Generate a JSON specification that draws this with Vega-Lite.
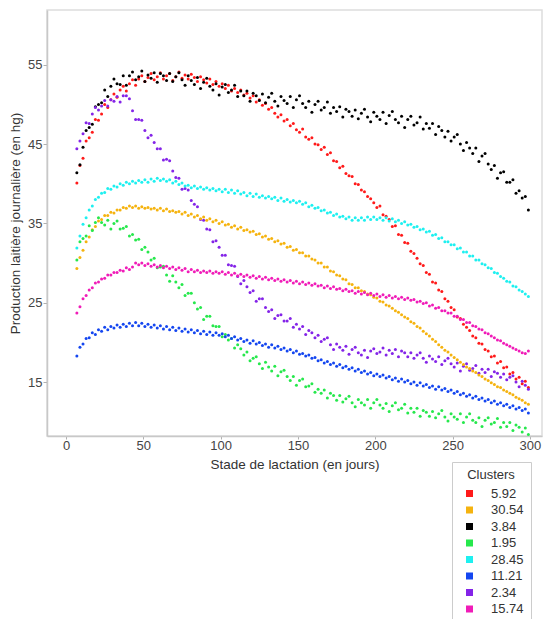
{
"$schema":"https://vega.github.io/schema/vega-lite/v6.json",
"width":495,"height":426,
"autosize":{"type":"none"},
"padding":{"left":47,"top":10,"right":6,"bottom":183},
"background":"white",
"config":{"font":"Liberation Sans","view":{"stroke":"#dddddd","strokeWidth":1.5},
"axis":{"grid":false,"domainColor":"#c8c8c8","domainWidth":1.5,"tickColor":"#b0b0b0","labelColor":"#444444","titleColor":"#333333","labelFontSize":13,"titleFontSize":13.5,"titleFontWeight":"normal"}},
"data":{"values":[
{"k":"5.92","x":7,"y":40.1},{"k":"5.92","x":9,"y":42.3},{"k":"5.92","x":11,"y":43.2},{"k":"5.92","x":13,"y":45.4},{"k":"5.92","x":15,"y":45.8},{"k":"5.92","x":17,"y":46.5},{"k":"5.92","x":19,"y":48.1},{"k":"5.92","x":21,"y":48.0},{"k":"5.92","x":23,"y":48.8},{"k":"5.92","x":25,"y":50.0},{"k":"5.92","x":27,"y":49.6},{"k":"5.92","x":29,"y":50.6},{"k":"5.92","x":31,"y":51.3},{"k":"5.92","x":33,"y":50.9},{"k":"5.92","x":35,"y":51.8},{"k":"5.92","x":37,"y":52.3},{"k":"5.92","x":39,"y":51.7},{"k":"5.92","x":41,"y":52.6},{"k":"5.92","x":43,"y":53.1},{"k":"5.92","x":45,"y":52.4},{"k":"5.92","x":47,"y":53.2},{"k":"5.92","x":49,"y":53.6},{"k":"5.92","x":51,"y":52.9},{"k":"5.92","x":53,"y":53.4},{"k":"5.92","x":55,"y":53.9},{"k":"5.92","x":57,"y":53.1},{"k":"5.92","x":59,"y":53.5},{"k":"5.92","x":61,"y":54.0},{"k":"5.92","x":63,"y":53.2},{"k":"5.92","x":65,"y":53.6},{"k":"5.92","x":67,"y":53.9},{"k":"5.92","x":69,"y":53.0},{"k":"5.92","x":71,"y":53.5},{"k":"5.92","x":73,"y":54.1},{"k":"5.92","x":75,"y":53.3},{"k":"5.92","x":77,"y":53.7},{"k":"5.92","x":79,"y":53.2},{"k":"5.92","x":81,"y":53.8},{"k":"5.92","x":83,"y":53.4},{"k":"5.92","x":85,"y":52.9},{"k":"5.92","x":87,"y":53.5},{"k":"5.92","x":89,"y":53.1},{"k":"5.92","x":91,"y":52.7},{"k":"5.92","x":93,"y":53.2},{"k":"5.92","x":95,"y":52.5},{"k":"5.92","x":97,"y":52.9},{"k":"5.92","x":99,"y":52.3},{"k":"5.92","x":101,"y":52.6},{"k":"5.92","x":103,"y":52.0},{"k":"5.92","x":105,"y":52.4},{"k":"5.92","x":107,"y":51.7},{"k":"5.92","x":109,"y":52.0},{"k":"5.92","x":111,"y":51.5},{"k":"5.92","x":113,"y":51.8},{"k":"5.92","x":115,"y":51.2},{"k":"5.92","x":117,"y":51.4},{"k":"5.92","x":119,"y":50.8},{"k":"5.92","x":121,"y":51.1},{"k":"5.92","x":123,"y":50.3},{"k":"5.92","x":125,"y":50.6},{"k":"5.92","x":127,"y":49.9},{"k":"5.92","x":129,"y":50.1},{"k":"5.92","x":131,"y":49.4},{"k":"5.92","x":133,"y":49.6},{"k":"5.92","x":135,"y":48.9},{"k":"5.92","x":137,"y":48.4},{"k":"5.92","x":139,"y":48.7},{"k":"5.92","x":141,"y":47.9},{"k":"5.92","x":143,"y":48.1},{"k":"5.92","x":145,"y":47.3},{"k":"5.92","x":147,"y":47.6},{"k":"5.92","x":149,"y":46.8},{"k":"5.92","x":151,"y":46.5},{"k":"5.92","x":153,"y":46.9},{"k":"5.92","x":155,"y":45.9},{"k":"5.92","x":157,"y":45.6},{"k":"5.92","x":159,"y":45.8},{"k":"5.92","x":161,"y":45.0},{"k":"5.92","x":163,"y":44.9},{"k":"5.92","x":165,"y":44.3},{"k":"5.92","x":167,"y":44.6},{"k":"5.92","x":169,"y":43.7},{"k":"5.92","x":171,"y":43.9},{"k":"5.92","x":173,"y":42.9},{"k":"5.92","x":175,"y":42.8},{"k":"5.92","x":177,"y":42.0},{"k":"5.92","x":179,"y":42.2},{"k":"5.92","x":181,"y":41.3},{"k":"5.92","x":183,"y":41.0},{"k":"5.92","x":185,"y":40.9},{"k":"5.92","x":187,"y":40.0},{"k":"5.92","x":189,"y":39.9},{"k":"5.92","x":191,"y":39.2},{"k":"5.92","x":193,"y":39.0},{"k":"5.92","x":195,"y":38.4},{"k":"5.92","x":197,"y":38.1},{"k":"5.92","x":199,"y":37.6},{"k":"5.92","x":201,"y":37.0},{"k":"5.92","x":203,"y":37.2},{"k":"5.92","x":205,"y":36.1},{"k":"5.92","x":207,"y":35.9},{"k":"5.92","x":209,"y":35.5},{"k":"5.92","x":211,"y":34.6},{"k":"5.92","x":213,"y":34.7},{"k":"5.92","x":215,"y":33.6},{"k":"5.92","x":217,"y":33.5},{"k":"5.92","x":219,"y":32.6},{"k":"5.92","x":221,"y":32.5},{"k":"5.92","x":223,"y":31.5},{"k":"5.92","x":225,"y":31.2},{"k":"5.92","x":227,"y":30.6},{"k":"5.92","x":229,"y":29.9},{"k":"5.92","x":231,"y":29.7},{"k":"5.92","x":233,"y":28.8},{"k":"5.92","x":235,"y":28.6},{"k":"5.92","x":237,"y":27.6},{"k":"5.92","x":239,"y":27.5},{"k":"5.92","x":241,"y":26.6},{"k":"5.92","x":243,"y":26.4},{"k":"5.92","x":245,"y":25.5},{"k":"5.92","x":247,"y":25.2},{"k":"5.92","x":249,"y":24.4},{"k":"5.92","x":251,"y":24.1},{"k":"5.92","x":253,"y":23.2},{"k":"5.92","x":255,"y":23.0},{"k":"5.92","x":257,"y":22.3},{"k":"5.92","x":259,"y":21.9},{"k":"5.92","x":261,"y":21.5},{"k":"5.92","x":263,"y":20.8},{"k":"5.92","x":265,"y":20.6},{"k":"5.92","x":267,"y":19.9},{"k":"5.92","x":269,"y":19.8},{"k":"5.92","x":271,"y":19.1},{"k":"5.92","x":273,"y":18.9},{"k":"5.92","x":275,"y":18.2},{"k":"5.92","x":277,"y":18.3},{"k":"5.92","x":279,"y":17.4},{"k":"5.92","x":281,"y":17.6},{"k":"5.92","x":283,"y":16.8},{"k":"5.92","x":285,"y":16.9},{"k":"5.92","x":287,"y":16.0},{"k":"5.92","x":289,"y":16.2},{"k":"5.92","x":291,"y":15.4},{"k":"5.92","x":293,"y":15.6},{"k":"5.92","x":295,"y":14.8},{"k":"5.92","x":297,"y":15.1},{"k":"5.92","x":299,"y":14.3},
{"k":"3.84","x":7,"y":41.4},{"k":"3.84","x":9,"y":42.4},{"k":"3.84","x":11,"y":44.6},{"k":"3.84","x":13,"y":46.7},{"k":"3.84","x":15,"y":47.1},{"k":"3.84","x":17,"y":47.5},{"k":"3.84","x":19,"y":49.7},{"k":"3.84","x":21,"y":50.0},{"k":"3.84","x":23,"y":50.2},{"k":"3.84","x":25,"y":51.8},{"k":"3.84","x":27,"y":51.0},{"k":"3.84","x":29,"y":52.3},{"k":"3.84","x":31,"y":53.2},{"k":"3.84","x":33,"y":52.6},{"k":"3.84","x":35,"y":52.5},{"k":"3.84","x":37,"y":53.6},{"k":"3.84","x":39,"y":52.4},{"k":"3.84","x":41,"y":53.6},{"k":"3.84","x":43,"y":54.1},{"k":"3.84","x":45,"y":53.1},{"k":"3.84","x":47,"y":53.5},{"k":"3.84","x":49,"y":54.2},{"k":"3.84","x":51,"y":52.9},{"k":"3.84","x":53,"y":53.7},{"k":"3.84","x":55,"y":53.3},{"k":"3.84","x":57,"y":54.0},{"k":"3.84","x":59,"y":52.8},{"k":"3.84","x":61,"y":53.9},{"k":"3.84","x":63,"y":53.6},{"k":"3.84","x":65,"y":53.0},{"k":"3.84","x":67,"y":53.9},{"k":"3.84","x":69,"y":52.9},{"k":"3.84","x":71,"y":53.5},{"k":"3.84","x":73,"y":54.0},{"k":"3.84","x":75,"y":53.1},{"k":"3.84","x":77,"y":52.4},{"k":"3.84","x":79,"y":53.6},{"k":"3.84","x":81,"y":53.0},{"k":"3.84","x":83,"y":52.5},{"k":"3.84","x":85,"y":53.4},{"k":"3.84","x":87,"y":52.0},{"k":"3.84","x":89,"y":52.8},{"k":"3.84","x":91,"y":53.3},{"k":"3.84","x":93,"y":52.3},{"k":"3.84","x":95,"y":51.8},{"k":"3.84","x":97,"y":52.6},{"k":"3.84","x":99,"y":51.2},{"k":"3.84","x":101,"y":52.2},{"k":"3.84","x":103,"y":52.5},{"k":"3.84","x":105,"y":51.5},{"k":"3.84","x":107,"y":51.8},{"k":"3.84","x":109,"y":52.4},{"k":"3.84","x":111,"y":51.0},{"k":"3.84","x":113,"y":51.7},{"k":"3.84","x":115,"y":51.1},{"k":"3.84","x":117,"y":51.7},{"k":"3.84","x":119,"y":50.4},{"k":"3.84","x":121,"y":51.4},{"k":"3.84","x":123,"y":51.1},{"k":"3.84","x":125,"y":50.5},{"k":"3.84","x":127,"y":51.3},{"k":"3.84","x":129,"y":50.2},{"k":"3.84","x":131,"y":50.9},{"k":"3.84","x":133,"y":51.4},{"k":"3.84","x":135,"y":50.4},{"k":"3.84","x":137,"y":49.8},{"k":"3.84","x":139,"y":51.0},{"k":"3.84","x":141,"y":50.5},{"k":"3.84","x":143,"y":50.1},{"k":"3.84","x":145,"y":51.0},{"k":"3.84","x":147,"y":49.6},{"k":"3.84","x":149,"y":50.6},{"k":"3.84","x":151,"y":51.1},{"k":"3.84","x":153,"y":50.1},{"k":"3.84","x":155,"y":49.6},{"k":"3.84","x":157,"y":50.4},{"k":"3.84","x":159,"y":49.0},{"k":"3.84","x":161,"y":50.0},{"k":"3.84","x":163,"y":50.4},{"k":"3.84","x":165,"y":49.3},{"k":"3.84","x":167,"y":49.6},{"k":"3.84","x":169,"y":50.3},{"k":"3.84","x":171,"y":48.9},{"k":"3.84","x":173,"y":49.6},{"k":"3.84","x":175,"y":49.1},{"k":"3.84","x":177,"y":49.7},{"k":"3.84","x":179,"y":48.4},{"k":"3.84","x":181,"y":49.4},{"k":"3.84","x":183,"y":49.1},{"k":"3.84","x":185,"y":48.5},{"k":"3.84","x":187,"y":49.3},{"k":"3.84","x":189,"y":48.2},{"k":"3.84","x":191,"y":48.9},{"k":"3.84","x":193,"y":49.4},{"k":"3.84","x":195,"y":48.4},{"k":"3.84","x":197,"y":47.8},{"k":"3.84","x":199,"y":49.0},{"k":"3.84","x":201,"y":48.5},{"k":"3.84","x":203,"y":48.1},{"k":"3.84","x":205,"y":49.0},{"k":"3.84","x":207,"y":47.6},{"k":"3.84","x":209,"y":48.6},{"k":"3.84","x":211,"y":49.1},{"k":"3.84","x":213,"y":48.1},{"k":"3.84","x":215,"y":47.7},{"k":"3.84","x":217,"y":48.5},{"k":"3.84","x":219,"y":47.1},{"k":"3.84","x":221,"y":48.1},{"k":"3.84","x":223,"y":48.5},{"k":"3.84","x":225,"y":47.4},{"k":"3.84","x":227,"y":47.7},{"k":"3.84","x":229,"y":48.4},{"k":"3.84","x":231,"y":46.9},{"k":"3.84","x":233,"y":47.6},{"k":"3.84","x":235,"y":47.0},{"k":"3.84","x":237,"y":47.6},{"k":"3.84","x":239,"y":46.2},{"k":"3.84","x":241,"y":47.2},{"k":"3.84","x":243,"y":46.7},{"k":"3.84","x":245,"y":45.9},{"k":"3.84","x":247,"y":46.6},{"k":"3.84","x":249,"y":45.4},{"k":"3.84","x":251,"y":45.9},{"k":"3.84","x":253,"y":46.2},{"k":"3.84","x":255,"y":45.0},{"k":"3.84","x":257,"y":44.2},{"k":"3.84","x":259,"y":45.2},{"k":"3.84","x":261,"y":44.5},{"k":"3.84","x":263,"y":43.8},{"k":"3.84","x":265,"y":44.5},{"k":"3.84","x":267,"y":42.8},{"k":"3.84","x":269,"y":43.5},{"k":"3.84","x":271,"y":43.8},{"k":"3.84","x":273,"y":42.5},{"k":"3.84","x":275,"y":41.8},{"k":"3.84","x":277,"y":42.3},{"k":"3.84","x":279,"y":40.7},{"k":"3.84","x":281,"y":41.4},{"k":"3.84","x":283,"y":41.5},{"k":"3.84","x":285,"y":40.2},{"k":"3.84","x":287,"y":40.2},{"k":"3.84","x":289,"y":40.5},{"k":"3.84","x":291,"y":38.8},{"k":"3.84","x":293,"y":39.1},{"k":"3.84","x":295,"y":38.2},{"k":"3.84","x":297,"y":38.4},{"k":"3.84","x":299,"y":36.7},
{"k":"2.34","x":7,"y":44.4},{"k":"2.34","x":9,"y":45.4},{"k":"2.34","x":11,"y":46.3},{"k":"2.34","x":13,"y":47.7},{"k":"2.34","x":15,"y":47.6},{"k":"2.34","x":17,"y":48.8},{"k":"2.34","x":19,"y":49.6},{"k":"2.34","x":21,"y":49.3},{"k":"2.34","x":23,"y":49.8},{"k":"2.34","x":25,"y":50.5},{"k":"2.34","x":27,"y":49.8},{"k":"2.34","x":29,"y":50.6},{"k":"2.34","x":31,"y":50.4},{"k":"2.34","x":33,"y":51.0},{"k":"2.34","x":35,"y":50.3},{"k":"2.34","x":37,"y":51.1},{"k":"2.34","x":39,"y":51.1},{"k":"2.34","x":41,"y":50.7},{"k":"2.34","x":43,"y":49.2},{"k":"2.34","x":45,"y":48.1},{"k":"2.34","x":47,"y":48.1},{"k":"2.34","x":49,"y":48.0},{"k":"2.34","x":51,"y":46.7},{"k":"2.34","x":53,"y":45.8},{"k":"2.34","x":55,"y":46.1},{"k":"2.34","x":57,"y":45.2},{"k":"2.34","x":59,"y":44.4},{"k":"2.34","x":61,"y":44.4},{"k":"2.34","x":63,"y":43.0},{"k":"2.34","x":65,"y":43.1},{"k":"2.34","x":67,"y":42.9},{"k":"2.34","x":69,"y":41.6},{"k":"2.34","x":71,"y":40.8},{"k":"2.34","x":73,"y":40.7},{"k":"2.34","x":75,"y":39.3},{"k":"2.34","x":77,"y":39.4},{"k":"2.34","x":79,"y":39.2},{"k":"2.34","x":81,"y":37.9},{"k":"2.34","x":83,"y":37.4},{"k":"2.34","x":85,"y":37.1},{"k":"2.34","x":87,"y":35.5},{"k":"2.34","x":89,"y":35.4},{"k":"2.34","x":91,"y":34.3},{"k":"2.34","x":93,"y":34.2},{"k":"2.34","x":95,"y":32.7},{"k":"2.34","x":97,"y":32.8},{"k":"2.34","x":99,"y":32.0},{"k":"2.34","x":101,"y":31.0},{"k":"2.34","x":103,"y":31.0},{"k":"2.34","x":105,"y":29.8},{"k":"2.34","x":107,"y":29.7},{"k":"2.34","x":109,"y":29.6},{"k":"2.34","x":111,"y":28.3},{"k":"2.34","x":113,"y":27.4},{"k":"2.34","x":115,"y":27.8},{"k":"2.34","x":117,"y":27.0},{"k":"2.34","x":119,"y":26.3},{"k":"2.34","x":121,"y":26.5},{"k":"2.34","x":123,"y":25.2},{"k":"2.34","x":125,"y":25.5},{"k":"2.34","x":127,"y":25.5},{"k":"2.34","x":129,"y":24.4},{"k":"2.34","x":131,"y":23.9},{"k":"2.34","x":133,"y":24.1},{"k":"2.34","x":135,"y":23.0},{"k":"2.34","x":137,"y":23.4},{"k":"2.34","x":139,"y":23.5},{"k":"2.34","x":141,"y":22.7},{"k":"2.34","x":143,"y":22.7},{"k":"2.34","x":145,"y":23.0},{"k":"2.34","x":147,"y":21.9},{"k":"2.34","x":149,"y":22.3},{"k":"2.34","x":151,"y":21.7},{"k":"2.34","x":153,"y":22.0},{"k":"2.34","x":155,"y":21.0},{"k":"2.34","x":157,"y":21.5},{"k":"2.34","x":159,"y":21.2},{"k":"2.34","x":161,"y":20.6},{"k":"2.34","x":163,"y":20.9},{"k":"2.34","x":165,"y":20.1},{"k":"2.34","x":167,"y":20.4},{"k":"2.34","x":169,"y":20.6},{"k":"2.34","x":171,"y":19.7},{"k":"2.34","x":173,"y":19.1},{"k":"2.34","x":175,"y":19.8},{"k":"2.34","x":177,"y":19.4},{"k":"2.34","x":179,"y":19.0},{"k":"2.34","x":181,"y":19.5},{"k":"2.34","x":183,"y":18.5},{"k":"2.34","x":185,"y":19.1},{"k":"2.34","x":187,"y":19.4},{"k":"2.34","x":189,"y":18.7},{"k":"2.34","x":191,"y":18.4},{"k":"2.34","x":193,"y":19.0},{"k":"2.34","x":195,"y":18.1},{"k":"2.34","x":197,"y":18.9},{"k":"2.34","x":199,"y":19.2},{"k":"2.34","x":201,"y":18.6},{"k":"2.34","x":203,"y":18.8},{"k":"2.34","x":205,"y":19.3},{"k":"2.34","x":207,"y":18.4},{"k":"2.34","x":209,"y":19.0},{"k":"2.34","x":211,"y":18.6},{"k":"2.34","x":213,"y":19.1},{"k":"2.34","x":215,"y":18.2},{"k":"2.34","x":217,"y":18.9},{"k":"2.34","x":219,"y":18.7},{"k":"2.34","x":221,"y":18.2},{"k":"2.34","x":223,"y":18.7},{"k":"2.34","x":225,"y":18.0},{"k":"2.34","x":227,"y":18.4},{"k":"2.34","x":229,"y":18.7},{"k":"2.34","x":231,"y":18.0},{"k":"2.34","x":233,"y":17.5},{"k":"2.34","x":235,"y":18.3},{"k":"2.34","x":237,"y":17.9},{"k":"2.34","x":239,"y":17.6},{"k":"2.34","x":241,"y":18.2},{"k":"2.34","x":243,"y":17.2},{"k":"2.34","x":245,"y":17.7},{"k":"2.34","x":247,"y":18.0},{"k":"2.34","x":249,"y":17.3},{"k":"2.34","x":251,"y":16.9},{"k":"2.34","x":253,"y":17.4},{"k":"2.34","x":255,"y":16.4},{"k":"2.34","x":257,"y":17.0},{"k":"2.34","x":259,"y":17.3},{"k":"2.34","x":261,"y":16.5},{"k":"2.34","x":263,"y":16.7},{"k":"2.34","x":265,"y":17.1},{"k":"2.34","x":267,"y":16.1},{"k":"2.34","x":269,"y":16.6},{"k":"2.34","x":271,"y":16.2},{"k":"2.34","x":273,"y":16.6},{"k":"2.34","x":275,"y":15.7},{"k":"2.34","x":277,"y":16.3},{"k":"2.34","x":279,"y":16.1},{"k":"2.34","x":281,"y":15.6},{"k":"2.34","x":283,"y":16.0},{"k":"2.34","x":285,"y":15.3},{"k":"2.34","x":287,"y":15.6},{"k":"2.34","x":289,"y":15.8},{"k":"2.34","x":291,"y":15.0},{"k":"2.34","x":293,"y":14.4},{"k":"2.34","x":295,"y":15.1},{"k":"2.34","x":297,"y":14.6},{"k":"2.34","x":299,"y":14.1},
{"k":"28.45","x":7,"y":31.9},{"k":"28.45","x":9,"y":33.4},{"k":"28.45","x":11,"y":34.9},{"k":"28.45","x":13,"y":35.7},{"k":"28.45","x":15,"y":36.7},{"k":"28.45","x":17,"y":37.2},{"k":"28.45","x":19,"y":38.0},{"k":"28.45","x":21,"y":38.3},{"k":"28.45","x":23,"y":38.8},{"k":"28.45","x":25,"y":38.9},{"k":"28.45","x":27,"y":39.4},{"k":"28.45","x":29,"y":39.3},{"k":"28.45","x":31,"y":39.7},{"k":"28.45","x":33,"y":39.6},{"k":"28.45","x":35,"y":40.0},{"k":"28.45","x":37,"y":39.8},{"k":"28.45","x":39,"y":40.2},{"k":"28.45","x":41,"y":40.0},{"k":"28.45","x":43,"y":40.3},{"k":"28.45","x":45,"y":40.1},{"k":"28.45","x":47,"y":40.4},{"k":"28.45","x":49,"y":40.2},{"k":"28.45","x":51,"y":40.5},{"k":"28.45","x":53,"y":40.2},{"k":"28.45","x":55,"y":40.6},{"k":"28.45","x":57,"y":40.3},{"k":"28.45","x":59,"y":40.7},{"k":"28.45","x":61,"y":40.4},{"k":"28.45","x":63,"y":40.6},{"k":"28.45","x":65,"y":40.3},{"k":"28.45","x":67,"y":40.5},{"k":"28.45","x":69,"y":40.1},{"k":"28.45","x":71,"y":40.3},{"k":"28.45","x":73,"y":39.9},{"k":"28.45","x":75,"y":40.1},{"k":"28.45","x":77,"y":39.7},{"k":"28.45","x":79,"y":39.8},{"k":"28.45","x":81,"y":39.5},{"k":"28.45","x":83,"y":39.7},{"k":"28.45","x":85,"y":39.4},{"k":"28.45","x":87,"y":39.6},{"k":"28.45","x":89,"y":39.3},{"k":"28.45","x":91,"y":39.5},{"k":"28.45","x":93,"y":39.2},{"k":"28.45","x":95,"y":39.4},{"k":"28.45","x":97,"y":39.1},{"k":"28.45","x":99,"y":39.3},{"k":"28.45","x":101,"y":39.0},{"k":"28.45","x":103,"y":39.3},{"k":"28.45","x":105,"y":38.9},{"k":"28.45","x":107,"y":39.2},{"k":"28.45","x":109,"y":38.8},{"k":"28.45","x":111,"y":39.1},{"k":"28.45","x":113,"y":38.7},{"k":"28.45","x":115,"y":38.9},{"k":"28.45","x":117,"y":38.5},{"k":"28.45","x":119,"y":38.8},{"k":"28.45","x":121,"y":38.4},{"k":"28.45","x":123,"y":38.7},{"k":"28.45","x":125,"y":38.3},{"k":"28.45","x":127,"y":38.5},{"k":"28.45","x":129,"y":38.2},{"k":"28.45","x":131,"y":38.4},{"k":"28.45","x":133,"y":38.1},{"k":"28.45","x":135,"y":38.3},{"k":"28.45","x":137,"y":37.9},{"k":"28.45","x":139,"y":38.2},{"k":"28.45","x":141,"y":37.8},{"k":"28.45","x":143,"y":38.0},{"k":"28.45","x":145,"y":37.7},{"k":"28.45","x":147,"y":37.9},{"k":"28.45","x":149,"y":37.6},{"k":"28.45","x":151,"y":37.8},{"k":"28.45","x":153,"y":37.4},{"k":"28.45","x":155,"y":37.6},{"k":"28.45","x":157,"y":37.1},{"k":"28.45","x":159,"y":37.3},{"k":"28.45","x":161,"y":36.9},{"k":"28.45","x":163,"y":37.0},{"k":"28.45","x":165,"y":36.6},{"k":"28.45","x":167,"y":36.7},{"k":"28.45","x":169,"y":36.3},{"k":"28.45","x":171,"y":36.4},{"k":"28.45","x":173,"y":36.0},{"k":"28.45","x":175,"y":36.2},{"k":"28.45","x":177,"y":35.8},{"k":"28.45","x":179,"y":35.9},{"k":"28.45","x":181,"y":35.6},{"k":"28.45","x":183,"y":35.8},{"k":"28.45","x":185,"y":35.4},{"k":"28.45","x":187,"y":35.7},{"k":"28.45","x":189,"y":35.4},{"k":"28.45","x":191,"y":35.7},{"k":"28.45","x":193,"y":35.4},{"k":"28.45","x":195,"y":35.8},{"k":"28.45","x":197,"y":35.5},{"k":"28.45","x":199,"y":35.8},{"k":"28.45","x":201,"y":35.5},{"k":"28.45","x":203,"y":35.7},{"k":"28.45","x":205,"y":35.4},{"k":"28.45","x":207,"y":35.7},{"k":"28.45","x":209,"y":35.3},{"k":"28.45","x":211,"y":35.6},{"k":"28.45","x":213,"y":35.2},{"k":"28.45","x":215,"y":35.4},{"k":"28.45","x":217,"y":35.0},{"k":"28.45","x":219,"y":35.2},{"k":"28.45","x":221,"y":34.8},{"k":"28.45","x":223,"y":34.9},{"k":"28.45","x":225,"y":34.5},{"k":"28.45","x":227,"y":34.6},{"k":"28.45","x":229,"y":34.2},{"k":"28.45","x":231,"y":34.3},{"k":"28.45","x":233,"y":33.9},{"k":"28.45","x":235,"y":34.0},{"k":"28.45","x":237,"y":33.5},{"k":"28.45","x":239,"y":33.6},{"k":"28.45","x":241,"y":33.1},{"k":"28.45","x":243,"y":33.2},{"k":"28.45","x":245,"y":32.7},{"k":"28.45","x":247,"y":32.7},{"k":"28.45","x":249,"y":32.3},{"k":"28.45","x":251,"y":32.3},{"k":"28.45","x":253,"y":31.8},{"k":"28.45","x":255,"y":31.9},{"k":"28.45","x":257,"y":31.4},{"k":"28.45","x":259,"y":31.4},{"k":"28.45","x":261,"y":30.9},{"k":"28.45","x":263,"y":30.9},{"k":"28.45","x":265,"y":30.4},{"k":"28.45","x":267,"y":30.4},{"k":"28.45","x":269,"y":29.9},{"k":"28.45","x":271,"y":29.8},{"k":"28.45","x":273,"y":29.4},{"k":"28.45","x":275,"y":29.3},{"k":"28.45","x":277,"y":28.8},{"k":"28.45","x":279,"y":28.7},{"k":"28.45","x":281,"y":28.3},{"k":"28.45","x":283,"y":28.1},{"k":"28.45","x":285,"y":27.7},{"k":"28.45","x":287,"y":27.6},{"k":"28.45","x":289,"y":27.1},{"k":"28.45","x":291,"y":27.0},{"k":"28.45","x":293,"y":26.6},{"k":"28.45","x":295,"y":26.4},{"k":"28.45","x":297,"y":26.1},{"k":"28.45","x":299,"y":25.8},
{"k":"30.54","x":7,"y":29.3},{"k":"30.54","x":9,"y":30.7},{"k":"30.54","x":11,"y":31.6},{"k":"30.54","x":13,"y":32.7},{"k":"30.54","x":15,"y":33.3},{"k":"30.54","x":17,"y":34.2},{"k":"30.54","x":19,"y":34.6},{"k":"30.54","x":21,"y":35.3},{"k":"30.54","x":23,"y":35.5},{"k":"30.54","x":25,"y":36.0},{"k":"30.54","x":27,"y":36.0},{"k":"30.54","x":29,"y":36.4},{"k":"30.54","x":31,"y":36.3},{"k":"30.54","x":33,"y":36.7},{"k":"30.54","x":35,"y":36.7},{"k":"30.54","x":37,"y":37.0},{"k":"30.54","x":39,"y":36.9},{"k":"30.54","x":41,"y":37.2},{"k":"30.54","x":43,"y":37.0},{"k":"30.54","x":45,"y":37.2},{"k":"30.54","x":47,"y":36.9},{"k":"30.54","x":49,"y":37.1},{"k":"30.54","x":51,"y":36.9},{"k":"30.54","x":53,"y":37.0},{"k":"30.54","x":55,"y":36.8},{"k":"30.54","x":57,"y":36.9},{"k":"30.54","x":59,"y":36.7},{"k":"30.54","x":61,"y":36.9},{"k":"30.54","x":63,"y":36.6},{"k":"30.54","x":65,"y":36.8},{"k":"30.54","x":67,"y":36.5},{"k":"30.54","x":69,"y":36.6},{"k":"30.54","x":71,"y":36.4},{"k":"30.54","x":73,"y":36.5},{"k":"30.54","x":75,"y":36.2},{"k":"30.54","x":77,"y":36.4},{"k":"30.54","x":79,"y":36.0},{"k":"30.54","x":81,"y":36.2},{"k":"30.54","x":83,"y":35.8},{"k":"30.54","x":85,"y":36.0},{"k":"30.54","x":87,"y":35.6},{"k":"30.54","x":89,"y":35.8},{"k":"30.54","x":91,"y":35.4},{"k":"30.54","x":93,"y":35.6},{"k":"30.54","x":95,"y":35.2},{"k":"30.54","x":97,"y":35.4},{"k":"30.54","x":99,"y":35.0},{"k":"30.54","x":101,"y":35.2},{"k":"30.54","x":103,"y":34.8},{"k":"30.54","x":105,"y":34.9},{"k":"30.54","x":107,"y":34.5},{"k":"30.54","x":109,"y":34.7},{"k":"30.54","x":111,"y":34.3},{"k":"30.54","x":113,"y":34.5},{"k":"30.54","x":115,"y":34.1},{"k":"30.54","x":117,"y":34.2},{"k":"30.54","x":119,"y":33.9},{"k":"30.54","x":121,"y":34.0},{"k":"30.54","x":123,"y":33.6},{"k":"30.54","x":125,"y":33.7},{"k":"30.54","x":127,"y":33.3},{"k":"30.54","x":129,"y":33.4},{"k":"30.54","x":131,"y":33.0},{"k":"30.54","x":133,"y":33.1},{"k":"30.54","x":135,"y":32.7},{"k":"30.54","x":137,"y":32.8},{"k":"30.54","x":139,"y":32.4},{"k":"30.54","x":141,"y":32.5},{"k":"30.54","x":143,"y":32.0},{"k":"30.54","x":145,"y":32.1},{"k":"30.54","x":147,"y":31.6},{"k":"30.54","x":149,"y":31.7},{"k":"30.54","x":151,"y":31.3},{"k":"30.54","x":153,"y":31.3},{"k":"30.54","x":155,"y":30.9},{"k":"30.54","x":157,"y":30.9},{"k":"30.54","x":159,"y":30.5},{"k":"30.54","x":161,"y":30.4},{"k":"30.54","x":163,"y":30.0},{"k":"30.54","x":165,"y":30.0},{"k":"30.54","x":167,"y":29.5},{"k":"30.54","x":169,"y":29.5},{"k":"30.54","x":171,"y":29.0},{"k":"30.54","x":173,"y":28.9},{"k":"30.54","x":175,"y":28.5},{"k":"30.54","x":177,"y":28.4},{"k":"30.54","x":179,"y":28.0},{"k":"30.54","x":181,"y":27.9},{"k":"30.54","x":183,"y":27.4},{"k":"30.54","x":185,"y":27.3},{"k":"30.54","x":187,"y":26.9},{"k":"30.54","x":189,"y":26.9},{"k":"30.54","x":191,"y":26.5},{"k":"30.54","x":193,"y":26.4},{"k":"30.54","x":195,"y":26.1},{"k":"30.54","x":197,"y":26.0},{"k":"30.54","x":199,"y":25.7},{"k":"30.54","x":201,"y":25.6},{"k":"30.54","x":203,"y":25.2},{"k":"30.54","x":205,"y":25.1},{"k":"30.54","x":207,"y":24.7},{"k":"30.54","x":209,"y":24.6},{"k":"30.54","x":211,"y":24.3},{"k":"30.54","x":213,"y":24.0},{"k":"30.54","x":215,"y":23.8},{"k":"30.54","x":217,"y":23.5},{"k":"30.54","x":219,"y":23.2},{"k":"30.54","x":221,"y":23.0},{"k":"30.54","x":223,"y":22.6},{"k":"30.54","x":225,"y":22.4},{"k":"30.54","x":227,"y":22.0},{"k":"30.54","x":229,"y":21.8},{"k":"30.54","x":231,"y":21.4},{"k":"30.54","x":233,"y":21.1},{"k":"30.54","x":235,"y":20.8},{"k":"30.54","x":237,"y":20.4},{"k":"30.54","x":239,"y":20.1},{"k":"30.54","x":241,"y":19.7},{"k":"30.54","x":243,"y":19.4},{"k":"30.54","x":245,"y":19.0},{"k":"30.54","x":247,"y":18.8},{"k":"30.54","x":249,"y":18.4},{"k":"30.54","x":251,"y":18.1},{"k":"30.54","x":253,"y":17.8},{"k":"30.54","x":255,"y":17.5},{"k":"30.54","x":257,"y":17.2},{"k":"30.54","x":259,"y":16.9},{"k":"30.54","x":261,"y":16.7},{"k":"30.54","x":263,"y":16.4},{"k":"30.54","x":265,"y":16.2},{"k":"30.54","x":267,"y":15.9},{"k":"30.54","x":269,"y":15.7},{"k":"30.54","x":271,"y":15.4},{"k":"30.54","x":273,"y":15.2},{"k":"30.54","x":275,"y":14.9},{"k":"30.54","x":277,"y":14.7},{"k":"30.54","x":279,"y":14.4},{"k":"30.54","x":281,"y":14.3},{"k":"30.54","x":283,"y":14.0},{"k":"30.54","x":285,"y":13.8},{"k":"30.54","x":287,"y":13.6},{"k":"30.54","x":289,"y":13.4},{"k":"30.54","x":291,"y":13.1},{"k":"30.54","x":293,"y":12.9},{"k":"30.54","x":295,"y":12.7},{"k":"30.54","x":297,"y":12.4},{"k":"30.54","x":299,"y":12.2},
{"k":"1.95","x":7,"y":30.4},{"k":"1.95","x":9,"y":32.7},{"k":"1.95","x":11,"y":33.1},{"k":"1.95","x":13,"y":33.4},{"k":"1.95","x":15,"y":34.7},{"k":"1.95","x":17,"y":34.1},{"k":"1.95","x":19,"y":35.1},{"k":"1.95","x":21,"y":35.7},{"k":"1.95","x":23,"y":35.1},{"k":"1.95","x":25,"y":34.8},{"k":"1.95","x":27,"y":35.4},{"k":"1.95","x":29,"y":34.3},{"k":"1.95","x":31,"y":35.0},{"k":"1.95","x":33,"y":35.3},{"k":"1.95","x":35,"y":34.3},{"k":"1.95","x":37,"y":34.4},{"k":"1.95","x":39,"y":34.6},{"k":"1.95","x":41,"y":33.4},{"k":"1.95","x":43,"y":33.6},{"k":"1.95","x":45,"y":32.9},{"k":"1.95","x":47,"y":33.0},{"k":"1.95","x":49,"y":31.7},{"k":"1.95","x":51,"y":32.0},{"k":"1.95","x":53,"y":31.4},{"k":"1.95","x":55,"y":30.4},{"k":"1.95","x":57,"y":30.6},{"k":"1.95","x":59,"y":29.4},{"k":"1.95","x":61,"y":29.5},{"k":"1.95","x":63,"y":29.6},{"k":"1.95","x":65,"y":28.5},{"k":"1.95","x":67,"y":27.7},{"k":"1.95","x":69,"y":28.4},{"k":"1.95","x":71,"y":27.6},{"k":"1.95","x":73,"y":26.9},{"k":"1.95","x":75,"y":27.3},{"k":"1.95","x":77,"y":25.9},{"k":"1.95","x":79,"y":26.2},{"k":"1.95","x":81,"y":26.2},{"k":"1.95","x":83,"y":25.0},{"k":"1.95","x":85,"y":24.2},{"k":"1.95","x":87,"y":24.4},{"k":"1.95","x":89,"y":22.9},{"k":"1.95","x":91,"y":23.3},{"k":"1.95","x":93,"y":23.3},{"k":"1.95","x":95,"y":22.1},{"k":"1.95","x":97,"y":22.0},{"k":"1.95","x":99,"y":22.0},{"k":"1.95","x":101,"y":20.7},{"k":"1.95","x":103,"y":21.0},{"k":"1.95","x":105,"y":20.3},{"k":"1.95","x":107,"y":20.5},{"k":"1.95","x":109,"y":19.3},{"k":"1.95","x":111,"y":19.7},{"k":"1.95","x":113,"y":19.2},{"k":"1.95","x":115,"y":18.4},{"k":"1.95","x":117,"y":18.8},{"k":"1.95","x":119,"y":17.7},{"k":"1.95","x":121,"y":18.0},{"k":"1.95","x":123,"y":18.2},{"k":"1.95","x":125,"y":17.3},{"k":"1.95","x":127,"y":16.7},{"k":"1.95","x":129,"y":17.5},{"k":"1.95","x":131,"y":16.9},{"k":"1.95","x":133,"y":16.4},{"k":"1.95","x":135,"y":17.0},{"k":"1.95","x":137,"y":15.8},{"k":"1.95","x":139,"y":16.3},{"k":"1.95","x":141,"y":16.5},{"k":"1.95","x":143,"y":15.7},{"k":"1.95","x":145,"y":15.2},{"k":"1.95","x":147,"y":15.7},{"k":"1.95","x":149,"y":14.6},{"k":"1.95","x":151,"y":15.2},{"k":"1.95","x":153,"y":15.4},{"k":"1.95","x":155,"y":14.4},{"k":"1.95","x":157,"y":14.5},{"k":"1.95","x":159,"y":14.8},{"k":"1.95","x":161,"y":13.7},{"k":"1.95","x":163,"y":14.1},{"k":"1.95","x":165,"y":13.6},{"k":"1.95","x":167,"y":14.0},{"k":"1.95","x":169,"y":13.0},{"k":"1.95","x":171,"y":13.6},{"k":"1.95","x":173,"y":13.3},{"k":"1.95","x":175,"y":12.7},{"k":"1.95","x":177,"y":13.3},{"k":"1.95","x":179,"y":12.5},{"k":"1.95","x":181,"y":12.9},{"k":"1.95","x":183,"y":13.2},{"k":"1.95","x":185,"y":12.4},{"k":"1.95","x":187,"y":11.9},{"k":"1.95","x":189,"y":12.8},{"k":"1.95","x":191,"y":12.4},{"k":"1.95","x":193,"y":12.1},{"k":"1.95","x":195,"y":12.8},{"k":"1.95","x":197,"y":11.7},{"k":"1.95","x":199,"y":12.4},{"k":"1.95","x":201,"y":12.8},{"k":"1.95","x":203,"y":12.1},{"k":"1.95","x":205,"y":11.7},{"k":"1.95","x":207,"y":12.3},{"k":"1.95","x":209,"y":11.3},{"k":"1.95","x":211,"y":12.0},{"k":"1.95","x":213,"y":12.4},{"k":"1.95","x":215,"y":11.5},{"k":"1.95","x":217,"y":11.7},{"k":"1.95","x":219,"y":12.2},{"k":"1.95","x":221,"y":11.1},{"k":"1.95","x":223,"y":11.7},{"k":"1.95","x":225,"y":11.2},{"k":"1.95","x":227,"y":11.7},{"k":"1.95","x":229,"y":10.7},{"k":"1.95","x":231,"y":11.4},{"k":"1.95","x":233,"y":11.2},{"k":"1.95","x":235,"y":10.7},{"k":"1.95","x":237,"y":11.3},{"k":"1.95","x":239,"y":10.5},{"k":"1.95","x":241,"y":11.0},{"k":"1.95","x":243,"y":11.4},{"k":"1.95","x":245,"y":10.6},{"k":"1.95","x":247,"y":10.1},{"k":"1.95","x":249,"y":11.0},{"k":"1.95","x":251,"y":10.6},{"k":"1.95","x":253,"y":10.3},{"k":"1.95","x":255,"y":11.0},{"k":"1.95","x":257,"y":9.9},{"k":"1.95","x":259,"y":10.6},{"k":"1.95","x":261,"y":11.0},{"k":"1.95","x":263,"y":10.2},{"k":"1.95","x":265,"y":9.9},{"k":"1.95","x":267,"y":10.5},{"k":"1.95","x":269,"y":9.4},{"k":"1.95","x":271,"y":10.2},{"k":"1.95","x":273,"y":10.5},{"k":"1.95","x":275,"y":9.7},{"k":"1.95","x":277,"y":9.9},{"k":"1.95","x":279,"y":10.4},{"k":"1.95","x":281,"y":9.3},{"k":"1.95","x":283,"y":9.9},{"k":"1.95","x":285,"y":9.4},{"k":"1.95","x":287,"y":9.9},{"k":"1.95","x":289,"y":8.9},{"k":"1.95","x":291,"y":9.6},{"k":"1.95","x":293,"y":9.3},{"k":"1.95","x":295,"y":8.7},{"k":"1.95","x":297,"y":9.2},{"k":"1.95","x":299,"y":8.4},
{"k":"15.74","x":7,"y":23.7},{"k":"15.74","x":9,"y":24.5},{"k":"15.74","x":11,"y":25.5},{"k":"15.74","x":13,"y":25.9},{"k":"15.74","x":15,"y":26.6},{"k":"15.74","x":17,"y":26.9},{"k":"15.74","x":19,"y":27.5},{"k":"15.74","x":21,"y":27.6},{"k":"15.74","x":23,"y":28.0},{"k":"15.74","x":25,"y":28.1},{"k":"15.74","x":27,"y":28.5},{"k":"15.74","x":29,"y":28.5},{"k":"15.74","x":31,"y":28.8},{"k":"15.74","x":33,"y":28.8},{"k":"15.74","x":35,"y":29.1},{"k":"15.74","x":37,"y":29.0},{"k":"15.74","x":39,"y":29.4},{"k":"15.74","x":41,"y":29.2},{"k":"15.74","x":43,"y":29.5},{"k":"15.74","x":45,"y":30.0},{"k":"15.74","x":47,"y":29.8},{"k":"15.74","x":49,"y":30.0},{"k":"15.74","x":51,"y":29.7},{"k":"15.74","x":53,"y":29.9},{"k":"15.74","x":55,"y":29.6},{"k":"15.74","x":57,"y":29.8},{"k":"15.74","x":59,"y":29.5},{"k":"15.74","x":61,"y":29.7},{"k":"15.74","x":63,"y":29.4},{"k":"15.74","x":65,"y":29.6},{"k":"15.74","x":67,"y":29.3},{"k":"15.74","x":69,"y":29.5},{"k":"15.74","x":71,"y":29.2},{"k":"15.74","x":73,"y":29.4},{"k":"15.74","x":75,"y":29.1},{"k":"15.74","x":77,"y":29.3},{"k":"15.74","x":79,"y":28.9},{"k":"15.74","x":81,"y":29.2},{"k":"15.74","x":83,"y":28.9},{"k":"15.74","x":85,"y":29.1},{"k":"15.74","x":87,"y":28.8},{"k":"15.74","x":89,"y":29.0},{"k":"15.74","x":91,"y":28.8},{"k":"15.74","x":93,"y":29.0},{"k":"15.74","x":95,"y":28.7},{"k":"15.74","x":97,"y":28.9},{"k":"15.74","x":99,"y":28.7},{"k":"15.74","x":101,"y":28.9},{"k":"15.74","x":103,"y":28.6},{"k":"15.74","x":105,"y":28.8},{"k":"15.74","x":107,"y":28.5},{"k":"15.74","x":109,"y":28.7},{"k":"15.74","x":111,"y":28.4},{"k":"15.74","x":113,"y":28.6},{"k":"15.74","x":115,"y":28.3},{"k":"15.74","x":117,"y":28.5},{"k":"15.74","x":119,"y":28.2},{"k":"15.74","x":121,"y":28.4},{"k":"15.74","x":123,"y":28.1},{"k":"15.74","x":125,"y":28.3},{"k":"15.74","x":127,"y":28.0},{"k":"15.74","x":129,"y":28.2},{"k":"15.74","x":131,"y":27.9},{"k":"15.74","x":133,"y":28.1},{"k":"15.74","x":135,"y":27.8},{"k":"15.74","x":137,"y":28.0},{"k":"15.74","x":139,"y":27.7},{"k":"15.74","x":141,"y":27.9},{"k":"15.74","x":143,"y":27.6},{"k":"15.74","x":145,"y":27.8},{"k":"15.74","x":147,"y":27.5},{"k":"15.74","x":149,"y":27.7},{"k":"15.74","x":151,"y":27.4},{"k":"15.74","x":153,"y":27.6},{"k":"15.74","x":155,"y":27.3},{"k":"15.74","x":157,"y":27.5},{"k":"15.74","x":159,"y":27.2},{"k":"15.74","x":161,"y":27.4},{"k":"15.74","x":163,"y":27.1},{"k":"15.74","x":165,"y":27.2},{"k":"15.74","x":167,"y":26.9},{"k":"15.74","x":169,"y":27.1},{"k":"15.74","x":171,"y":26.8},{"k":"15.74","x":173,"y":27.0},{"k":"15.74","x":175,"y":26.7},{"k":"15.74","x":177,"y":26.8},{"k":"15.74","x":179,"y":26.5},{"k":"15.74","x":181,"y":26.7},{"k":"15.74","x":183,"y":26.4},{"k":"15.74","x":185,"y":26.5},{"k":"15.74","x":187,"y":26.2},{"k":"15.74","x":189,"y":26.4},{"k":"15.74","x":191,"y":26.1},{"k":"15.74","x":193,"y":26.3},{"k":"15.74","x":195,"y":26.0},{"k":"15.74","x":197,"y":26.2},{"k":"15.74","x":199,"y":25.9},{"k":"15.74","x":201,"y":26.1},{"k":"15.74","x":203,"y":25.8},{"k":"15.74","x":205,"y":26.0},{"k":"15.74","x":207,"y":25.7},{"k":"15.74","x":209,"y":25.9},{"k":"15.74","x":211,"y":25.6},{"k":"15.74","x":213,"y":25.8},{"k":"15.74","x":215,"y":25.5},{"k":"15.74","x":217,"y":25.7},{"k":"15.74","x":219,"y":25.4},{"k":"15.74","x":221,"y":25.6},{"k":"15.74","x":223,"y":25.3},{"k":"15.74","x":225,"y":25.4},{"k":"15.74","x":227,"y":25.1},{"k":"15.74","x":229,"y":25.2},{"k":"15.74","x":231,"y":24.9},{"k":"15.74","x":233,"y":25.0},{"k":"15.74","x":235,"y":24.6},{"k":"15.74","x":237,"y":24.7},{"k":"15.74","x":239,"y":24.3},{"k":"15.74","x":241,"y":24.4},{"k":"15.74","x":243,"y":24.0},{"k":"15.74","x":245,"y":24.0},{"k":"15.74","x":247,"y":23.7},{"k":"15.74","x":249,"y":23.7},{"k":"15.74","x":251,"y":23.3},{"k":"15.74","x":253,"y":23.3},{"k":"15.74","x":255,"y":22.9},{"k":"15.74","x":257,"y":22.9},{"k":"15.74","x":259,"y":22.5},{"k":"15.74","x":261,"y":22.5},{"k":"15.74","x":263,"y":22.1},{"k":"15.74","x":265,"y":22.0},{"k":"15.74","x":267,"y":21.7},{"k":"15.74","x":269,"y":21.6},{"k":"15.74","x":271,"y":21.2},{"k":"15.74","x":273,"y":21.1},{"k":"15.74","x":275,"y":20.8},{"k":"15.74","x":277,"y":20.6},{"k":"15.74","x":279,"y":20.3},{"k":"15.74","x":281,"y":20.2},{"k":"15.74","x":283,"y":19.9},{"k":"15.74","x":285,"y":19.7},{"k":"15.74","x":287,"y":19.5},{"k":"15.74","x":289,"y":19.3},{"k":"15.74","x":291,"y":19.1},{"k":"15.74","x":293,"y":18.9},{"k":"15.74","x":295,"y":18.7},{"k":"15.74","x":297,"y":18.6},{"k":"15.74","x":299,"y":18.9},
{"k":"11.21","x":7,"y":18.3},{"k":"11.21","x":9,"y":19.4},{"k":"11.21","x":11,"y":19.8},{"k":"11.21","x":13,"y":20.5},{"k":"11.21","x":15,"y":20.6},{"k":"11.21","x":17,"y":21.2},{"k":"11.21","x":19,"y":21.0},{"k":"11.21","x":21,"y":21.6},{"k":"11.21","x":23,"y":21.4},{"k":"11.21","x":25,"y":21.9},{"k":"11.21","x":27,"y":21.6},{"k":"11.21","x":29,"y":22.0},{"k":"11.21","x":31,"y":21.8},{"k":"11.21","x":33,"y":22.2},{"k":"11.21","x":35,"y":21.9},{"k":"11.21","x":37,"y":22.3},{"k":"11.21","x":39,"y":22.0},{"k":"11.21","x":41,"y":22.4},{"k":"11.21","x":43,"y":22.1},{"k":"11.21","x":45,"y":22.5},{"k":"11.21","x":47,"y":22.1},{"k":"11.21","x":49,"y":22.4},{"k":"11.21","x":51,"y":22.0},{"k":"11.21","x":53,"y":22.3},{"k":"11.21","x":55,"y":21.9},{"k":"11.21","x":57,"y":22.2},{"k":"11.21","x":59,"y":21.8},{"k":"11.21","x":61,"y":22.1},{"k":"11.21","x":63,"y":21.7},{"k":"11.21","x":65,"y":22.0},{"k":"11.21","x":67,"y":21.6},{"k":"11.21","x":69,"y":21.9},{"k":"11.21","x":71,"y":21.5},{"k":"11.21","x":73,"y":21.8},{"k":"11.21","x":75,"y":21.4},{"k":"11.21","x":77,"y":21.7},{"k":"11.21","x":79,"y":21.3},{"k":"11.21","x":81,"y":21.6},{"k":"11.21","x":83,"y":21.2},{"k":"11.21","x":85,"y":21.5},{"k":"11.21","x":87,"y":21.1},{"k":"11.21","x":89,"y":21.4},{"k":"11.21","x":91,"y":21.0},{"k":"11.21","x":93,"y":21.3},{"k":"11.21","x":95,"y":20.9},{"k":"11.21","x":97,"y":21.2},{"k":"11.21","x":99,"y":20.9},{"k":"11.21","x":101,"y":21.1},{"k":"11.21","x":103,"y":20.7},{"k":"11.21","x":105,"y":20.9},{"k":"11.21","x":107,"y":20.5},{"k":"11.21","x":109,"y":20.7},{"k":"11.21","x":111,"y":20.3},{"k":"11.21","x":113,"y":20.5},{"k":"11.21","x":115,"y":20.1},{"k":"11.21","x":117,"y":20.3},{"k":"11.21","x":119,"y":19.9},{"k":"11.21","x":121,"y":20.2},{"k":"11.21","x":123,"y":19.8},{"k":"11.21","x":125,"y":20.0},{"k":"11.21","x":127,"y":19.6},{"k":"11.21","x":129,"y":19.8},{"k":"11.21","x":131,"y":19.4},{"k":"11.21","x":133,"y":19.7},{"k":"11.21","x":135,"y":19.3},{"k":"11.21","x":137,"y":19.5},{"k":"11.21","x":139,"y":19.1},{"k":"11.21","x":141,"y":19.3},{"k":"11.21","x":143,"y":18.9},{"k":"11.21","x":145,"y":19.1},{"k":"11.21","x":147,"y":18.7},{"k":"11.21","x":149,"y":18.9},{"k":"11.21","x":151,"y":18.5},{"k":"11.21","x":153,"y":18.6},{"k":"11.21","x":155,"y":18.3},{"k":"11.21","x":157,"y":18.4},{"k":"11.21","x":159,"y":18.0},{"k":"11.21","x":161,"y":18.1},{"k":"11.21","x":163,"y":17.7},{"k":"11.21","x":165,"y":17.8},{"k":"11.21","x":167,"y":17.4},{"k":"11.21","x":169,"y":17.6},{"k":"11.21","x":171,"y":17.2},{"k":"11.21","x":173,"y":17.4},{"k":"11.21","x":175,"y":17.0},{"k":"11.21","x":177,"y":17.2},{"k":"11.21","x":179,"y":16.8},{"k":"11.21","x":181,"y":17.0},{"k":"11.21","x":183,"y":16.6},{"k":"11.21","x":185,"y":16.8},{"k":"11.21","x":187,"y":16.4},{"k":"11.21","x":189,"y":16.6},{"k":"11.21","x":191,"y":16.2},{"k":"11.21","x":193,"y":16.4},{"k":"11.21","x":195,"y":16.0},{"k":"11.21","x":197,"y":16.2},{"k":"11.21","x":199,"y":15.8},{"k":"11.21","x":201,"y":16.0},{"k":"11.21","x":203,"y":15.7},{"k":"11.21","x":205,"y":15.9},{"k":"11.21","x":207,"y":15.5},{"k":"11.21","x":209,"y":15.7},{"k":"11.21","x":211,"y":15.3},{"k":"11.21","x":213,"y":15.5},{"k":"11.21","x":215,"y":15.1},{"k":"11.21","x":217,"y":15.4},{"k":"11.21","x":219,"y":15.0},{"k":"11.21","x":221,"y":15.2},{"k":"11.21","x":223,"y":14.8},{"k":"11.21","x":225,"y":15.0},{"k":"11.21","x":227,"y":14.6},{"k":"11.21","x":229,"y":14.9},{"k":"11.21","x":231,"y":14.5},{"k":"11.21","x":233,"y":14.7},{"k":"11.21","x":235,"y":14.3},{"k":"11.21","x":237,"y":14.5},{"k":"11.21","x":239,"y":14.1},{"k":"11.21","x":241,"y":14.4},{"k":"11.21","x":243,"y":14.0},{"k":"11.21","x":245,"y":14.2},{"k":"11.21","x":247,"y":13.8},{"k":"11.21","x":249,"y":14.0},{"k":"11.21","x":251,"y":13.6},{"k":"11.21","x":253,"y":13.8},{"k":"11.21","x":255,"y":13.4},{"k":"11.21","x":257,"y":13.6},{"k":"11.21","x":259,"y":13.2},{"k":"11.21","x":261,"y":13.4},{"k":"11.21","x":263,"y":13.0},{"k":"11.21","x":265,"y":13.2},{"k":"11.21","x":267,"y":12.8},{"k":"11.21","x":269,"y":13.0},{"k":"11.21","x":271,"y":12.6},{"k":"11.21","x":273,"y":12.8},{"k":"11.21","x":275,"y":12.4},{"k":"11.21","x":277,"y":12.6},{"k":"11.21","x":279,"y":12.2},{"k":"11.21","x":281,"y":12.4},{"k":"11.21","x":283,"y":12.0},{"k":"11.21","x":285,"y":12.2},{"k":"11.21","x":287,"y":11.8},{"k":"11.21","x":289,"y":12.0},{"k":"11.21","x":291,"y":11.6},{"k":"11.21","x":293,"y":11.8},{"k":"11.21","x":295,"y":11.4},{"k":"11.21","x":297,"y":11.6},{"k":"11.21","x":299,"y":11.1}
]},
"mark":{"type":"circle","size":9,"opacity":1},
"encoding":{
"x":{"field":"x","type":"quantitative","scale":{"domain":[-12.3,307.8],"nice":false,"zero":false},"axis":{"values":[0,50,100,150,200,250,300],"title":"Stade de lactation (en jours)","titlePadding":5,"tickSize":3,"labelPadding":0}},
"y":{"field":"y","type":"quantitative","scale":{"domain":[8.2,61.9],"nice":false,"zero":false},"axis":{"values":[15,25,35,45,55],"title":"Production laitière journalière (en hg)","titlePadding":5,"tickSize":4,"labelPadding":1}},
"color":{"field":"k","type":"nominal","scale":{"domain":["5.92","30.54","3.84","1.95","28.45","11.21","2.34","15.74"],"range":["#ff1a1a","#f5b30f","#000000","#26e84c","#1ef0f0","#1446f0","#8424e8","#f01cb8"]},
"legend":{"title":"Clusters","orient":"none","legendX":405,"legendY":452,"symbolType":"square","symbolSize":49,"symbolOffset":4,"strokeColor":"#cccccc","fillColor":"white","padding":7,"labelFontSize":13,"titleFontSize":13,"titleFontWeight":"normal","titlePadding":5,"labelOffset":15,"rowPadding":2.5,"titleAnchor":"middle","labelColor":"#333333","titleColor":"#333333"}}
}
}
